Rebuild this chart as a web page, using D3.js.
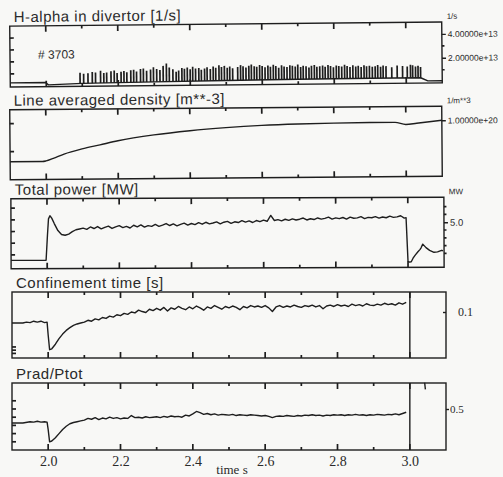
<!DOCTYPE html>
<html><head><meta charset="utf-8">
<script src="https://cdn.jsdelivr.net/npm/d3@7"></script>
<style>
html,body{margin:0;padding:0;background:#f8f8f6;}
svg{display:block;}
</style></head>
<body>
<svg id="c" width="503" height="477"></svg>
<script>
// ---------------- DATA ----------------
const shotLabel = "# 3703";
const timeMajor = [2.0, 2.2, 2.4, 2.6, 2.8, 3.0];
const timeMinor = [2.1, 2.3, 2.5, 2.7, 2.9];
const titles = ["H-alpha in divertor [1/s]", "Line averaged density [m**-3]", "Total power [MW]", "Confinement time [s]", "Prad/Ptot"];
const unitLabels = ["1/s", "1/m**3", "MW", "", ""];

// H-alpha baseline (units 1e13 /s)
const haBaseT = [1.9, 1.998, 2.006, 2.1, 2.3, 2.5, 2.7, 2.9, 3.04, 3.06, 3.1];
const haBaseV = [0.25, 0.25, 0.05, 0.15, 0.22, 0.28, 0.32, 0.35, 0.35, 0.08, 0.08];
// ELM spikes: time (s) and peak (1e13 /s)
const elmT = [2.094,2.104,2.116,2.128,2.137,2.151,2.160,2.168,2.180,2.189,2.197,2.208,2.216,2.224,2.235,2.243,2.251,2.262,2.270,2.279,2.290,2.298,2.307,2.316,2.325,2.334,2.342,2.352,2.361,2.368,2.377,2.384,2.392,2.400,2.407,2.415,2.424,2.431,2.440,2.447,2.456,2.464,2.471,2.480,2.487,2.495,2.503,2.510,2.518,2.532,2.540,2.547,2.555,2.563,2.570,2.578,2.585,2.593,2.600,2.608,2.616,2.623,2.631,2.638,2.646,2.654,2.661,2.669,2.677,2.684,2.692,2.699,2.707,2.714,2.722,2.730,2.737,2.745,2.752,2.760,2.768,2.775,2.783,2.790,2.798,2.806,2.813,2.821,2.829,2.836,2.844,2.852,2.860,2.867,2.875,2.883,2.890,2.898,2.906,2.914,2.921,2.929,2.936,2.944,2.960,2.975,2.990,3.003,3.012,3.018,3.026,3.033,3.040];
const elmV = [1.05,0.95,1.00,1.10,1.05,1.20,1.00,1.05,1.15,1.20,1.00,1.10,1.15,1.05,1.20,1.25,1.10,1.30,1.35,1.15,1.25,1.45,1.30,1.20,1.55,1.75,1.40,1.25,1.05,1.15,1.35,1.30,1.40,1.25,1.45,1.30,1.35,1.20,1.30,1.40,1.25,1.45,1.35,1.55,1.40,1.50,1.35,1.45,1.30,1.40,1.55,1.45,1.35,1.50,1.60,1.45,1.40,1.55,1.45,1.35,1.50,1.40,1.55,1.45,1.30,1.50,1.40,1.35,1.50,1.45,1.40,1.55,1.35,1.45,1.40,1.30,1.45,1.50,1.35,1.40,1.45,1.35,1.50,1.40,1.30,1.45,1.40,1.35,1.50,1.40,1.30,1.45,1.35,1.40,1.30,1.45,1.35,1.40,1.30,1.35,1.45,1.30,1.40,1.35,1.25,1.40,1.35,1.30,1.45,1.40,1.30,1.35,1.25];

// Line averaged density (1e20 m^-3)
const densT = [1.9, 1.99, 2.0, 2.02, 2.05, 2.1, 2.15, 2.2, 2.3, 2.4, 2.5, 2.6, 2.7, 2.8, 2.9, 2.97, 3.0, 3.03, 3.1];
const densV = [0.32, 0.32, 0.33, 0.375, 0.45, 0.54, 0.61, 0.68, 0.78, 0.85, 0.90, 0.935, 0.955, 0.965, 0.97, 0.97, 0.93, 0.95, 1.0];

// Flat-top sample times (s)
const ftT = [2.10,2.11,2.12,2.13,2.14,2.15,2.16,2.17,2.18,2.19,2.20,2.21,2.22,2.23,2.24,2.25,2.26,2.27,2.28,2.29,2.30,2.31,2.32,2.33,2.34,2.35,2.36,2.37,2.38,2.39,2.40,2.41,2.42,2.43,2.44,2.45,2.46,2.47,2.48,2.49,2.50,2.51,2.52,2.53,2.54,2.55,2.56,2.57,2.58,2.59,2.60,2.61,2.62,2.63,2.64,2.65,2.66,2.67,2.68,2.69,2.70,2.71,2.72,2.73,2.74,2.75,2.76,2.77,2.78,2.79,2.80,2.81,2.82,2.83,2.84,2.85,2.86,2.87,2.88,2.89,2.90,2.91,2.92,2.93,2.94,2.95,2.96,2.97,2.98,2.99];

// Total power (MW)
const pwrStartT = [1.9, 1.997, 2.001, 2.004, 2.008, 2.013, 2.02, 2.03, 2.04, 2.05, 2.06, 2.07, 2.08, 2.09];
const pwrStartV = [0.3, 0.3, 3.5, 5.6, 6.0, 5.7, 5.0, 4.1, 3.6, 3.5, 3.65, 3.95, 4.2, 4.3];
const pwrFtV = [4.40,4.25,4.55,4.35,4.60,4.30,4.50,4.65,4.35,4.55,
4.70,4.45,4.60,4.40,4.75,4.55,4.80,4.50,4.70,4.60,
4.85,4.60,4.75,4.95,4.70,4.90,4.65,4.85,5.00,4.75,
4.95,4.80,5.05,4.85,5.10,4.90,5.00,5.15,4.90,5.10,
5.20,4.95,5.15,5.05,5.30,5.10,5.25,5.05,5.30,5.15,
5.35,5.20,5.95,5.30,5.40,5.25,5.45,5.30,5.50,5.35,
5.45,5.60,5.35,5.50,5.40,5.60,5.45,5.55,5.70,5.45,
5.60,5.50,5.65,5.45,5.70,5.55,5.60,5.75,5.50,5.65,
5.60,5.75,5.55,5.70,5.60,5.80,5.65,5.70,5.85,5.55];
const pwrEndT = [2.995, 3.0, 3.004, 3.009, 3.014, 3.02, 3.027, 3.033, 3.036, 3.041, 3.05, 3.06, 3.072, 3.082, 3.093, 3.097];
const pwrEndV = [5.6, 0.0, -0.1, -0.05, 0.4, 0.8, 1.2, 1.5, 1.7, 2.2, 1.75, 1.4, 1.15, 1.2, 1.4, 1.35];

// Confinement time (s)
const tauStartT = [1.9, 1.93, 1.94, 1.95, 1.96, 1.97, 1.98, 1.99, 1.997, 2.0, 2.004, 2.01, 2.02, 2.03, 2.04, 2.05, 2.06, 2.07, 2.08, 2.09];
const tauStartV = [0.076, 0.076, 0.078, 0.077, 0.080, 0.078, 0.080, 0.077, 0.078, 0.050, 0.018, 0.020, 0.030, 0.042, 0.052, 0.060, 0.066, 0.071, 0.074, 0.076];
const tauFtV = [0.078,0.082,0.080,0.085,0.083,0.088,0.086,0.091,0.089,0.094,
0.092,0.097,0.095,0.100,0.098,0.104,0.101,0.099,0.106,0.103,
0.108,0.104,0.110,0.102,0.109,0.106,0.112,0.108,0.105,0.111,
0.107,0.113,0.109,0.104,0.111,0.108,0.114,0.110,0.106,0.112,
0.109,0.113,0.110,0.105,0.112,0.109,0.114,0.111,0.113,0.110,
0.114,0.109,0.101,0.111,0.114,0.110,0.113,0.111,0.115,0.112,
0.110,0.114,0.112,0.115,0.111,0.114,0.107,0.113,0.115,0.112,
0.116,0.113,0.115,0.112,0.117,0.114,0.116,0.113,0.118,0.115,
0.114,0.117,0.115,0.119,0.116,0.118,0.115,0.120,0.117,0.121];

// Prad / Ptot
const pradStartT = [1.9, 1.93, 1.95, 1.96, 1.97, 1.98, 1.99, 1.997, 2.0, 2.004, 2.01, 2.02, 2.03, 2.04, 2.05, 2.06, 2.07, 2.08, 2.09];
const pradStartV = [0.33, 0.33, 0.345, 0.34, 0.35, 0.34, 0.345, 0.34, 0.25, 0.10, 0.11, 0.15, 0.20, 0.25, 0.29, 0.32, 0.335, 0.345, 0.355];
const pradFtV = [0.365,0.385,0.375,0.395,0.370,0.390,0.380,0.400,0.385,0.395,
0.380,0.390,0.385,0.420,0.395,0.400,0.390,0.405,0.395,0.400,
0.405,0.395,0.410,0.400,0.415,0.405,0.410,0.400,0.425,0.415,
0.440,0.470,0.455,0.435,0.445,0.430,0.440,0.425,0.435,0.430,
0.425,0.435,0.420,0.430,0.425,0.420,0.430,0.425,0.420,0.415,
0.420,0.410,0.395,0.410,0.415,0.410,0.420,0.415,0.410,0.420,
0.415,0.425,0.420,0.430,0.420,0.425,0.415,0.425,0.420,0.430,
0.425,0.430,0.420,0.430,0.425,0.435,0.425,0.430,0.420,0.430,
0.425,0.435,0.430,0.425,0.435,0.430,0.440,0.430,0.445,0.460];
const pradTailT = [3.041, 3.043];
const pradTailV = [0.82, 0.74];

// Axis tick values
const haLeftTicks = [1, 2, 3, 4];
const haRightTicks = [2, 4];
const haRightMinor = [1, 3];
const densLeftTicks = [0.5, 1.0];
const densRightTicks = [1.0];
const pwrLeftTicks = [1, 2.5, 4, 5.5, 7];
const pwrRightMinor = [1, 2, 3, 4, 6, 7];
const pwrRightTicks = [5.0];
const tauLeftTicks = [0.01, 0.017, 0.024];
const tauRightTicks = [0.1];
const pradLeftTicks = [0.1, 0.2, 0.3, 0.4, 0.5, 0.6];
const pradRightTicks = [0.5];
const endTime = 3.0;

// ---------------- DRAWING ----------------
const svg = d3.select("#c");
const ink = "#1e1e1e";
const txt = "#2a2a2a";
const sans = "Liberation Sans, Arial, sans-serif";
const serif = "Liberation Serif, Times New Roman, serif";

// panel geometry (scan is slightly tilted/shifted at the top)
const layout = [
  {top: 24, bottom: 85, left: 10, right: 442, rot: -0.55, dom: [-0.1, 5.0]},
  {top: 108, bottom: 178, left: 10, right: 442, rot: -0.45, dom: [0, 1.25]},
  {top: 198, bottom: 268, left: 11, right: 444, rot: -0.2, dom: [-0.77, 8.2]},
  {top: 292, bottom: 358, left: 12, right: 446, rot: 0, dom: [0, 0.1435]},
  {top: 383, bottom: 450, left: 12, right: 446, rot: 0, dom: [0, 0.817]}
];
const xs = layout.map(l => d3.scaleLinear().domain([1.9, 3.1]).range([l.left, l.right]));
const ys = layout.map(l => d3.scaleLinear().domain(l.dom).range([l.bottom, l.top]));

function frame(i, opts) {
  const l = layout[i], y = ys[i], x = xs[i];
  const cx = (l.left + l.right) / 2, cy = (l.top + l.bottom) / 2;
  const g = svg.append("g").attr("transform", `rotate(${l.rot},${cx},${cy})`);
  g.append("rect").attr("x", l.left).attr("y", l.top)
    .attr("width", l.right - l.left).attr("height", l.bottom - l.top)
    .attr("fill", "none").attr("stroke", ink).attr("stroke-width", 1.4);
  g.append("text").attr("x", l.left + 4).attr("y", l.top - 4)
    .attr("font-family", sans).attr("font-size", 15)
    .attr("letter-spacing", 0.5).attr("fill", txt).text(titles[i]);
  // inner time ticks on top and bottom borders
  const tk = g.append("g");
  const tickSets = [{vals: timeMajor, len: 6}, {vals: timeMinor, len: 3}];
  tickSets.forEach(s => {
    s.vals.forEach(v => {
      tk.append("line").attr("x1", x(v)).attr("x2", x(v))
        .attr("y1", l.top).attr("y2", l.top + s.len);
      tk.append("line").attr("x1", x(v)).attr("x2", x(v))
        .attr("y1", l.bottom).attr("y2", l.bottom - s.len);
    });
  });
  // left inner ticks
  opts.left.forEach(v => {
    tk.append("line").attr("x1", l.left).attr("x2", l.left + 4)
      .attr("y1", y(v)).attr("y2", y(v));
  });
  // right minor ticks (outside)
  (opts.rightMinor || []).forEach(v => {
    tk.append("line").attr("x1", l.right).attr("x2", l.right + 2.5)
      .attr("y1", y(v)).attr("y2", y(v));
  });
  tk.selectAll("line").attr("stroke", ink).attr("stroke-width", 1.7);
  // right labelled ticks
  g.append("g").attr("transform", `translate(${l.right + opts.rOff},0)`)
    .call(d3.axisRight(y).tickValues(opts.right).tickSize(opts.rLen)
      .tickPadding(opts.pad).tickFormat(opts.fmt))
    .call(s => s.select(".domain").remove())
    .call(s => s.selectAll("line").attr("stroke", ink).attr("stroke-width", 1.4))
    .call(s => s.selectAll("text").attr("font-family", opts.font)
      .attr("font-size", opts.fs).attr("fill", txt));
  if (unitLabels[i]) {
    g.append("text").attr("x", l.right + 5).attr("y", l.top - 3)
      .attr("font-family", sans).attr("font-size", 8)
      .attr("fill", txt).text(unitLabels[i]);
  }
  return g;
}
const lineGen = (i) => d3.line().x(d => xs[i](d[0])).y(d => ys[i](d[1]));
const trace = (g, data, i, curve) => g.append("path").datum(data)
  .attr("d", curve ? lineGen(i).curve(curve) : lineGen(i))
  .attr("fill", "none").attr("stroke", ink).attr("stroke-width", 1.4)
  .attr("stroke-linejoin", "round");
const sci = d => d3.format(".5e")(d);

// Panel 1: H-alpha
const g1 = frame(0, {left: haLeftTicks, rightMinor: haRightMinor, right: haRightTicks, rOff: 0, rLen: 4, pad: 2,
  fmt: d => sci(d * 1e13), font: sans, fs: 8.5});
const baseAt = d3.scaleLinear().domain(haBaseT).range(haBaseV);
trace(g1, d3.zip(haBaseT, haBaseV), 0);
g1.append("g").selectAll("line").data(d3.zip(elmT, elmV)).join("line")
  .attr("x1", d => xs[0](d[0])).attr("x2", d => xs[0](d[0]))
  .attr("y1", d => ys[0](baseAt(d[0]))).attr("y2", d => ys[0](d[1]))
  .attr("stroke", ink).attr("stroke-width", 1.7);
g1.append("text").attr("x", 38).attr("y", 57)
  .attr("font-family", sans).attr("font-size", 12)
  .attr("fill", txt).text(shotLabel);

// Panel 2: density
const g2 = frame(1, {left: densLeftTicks, right: densRightTicks, rOff: 0, rLen: 4, pad: 2,
  fmt: d => sci(d * 1e20), font: sans, fs: 8.5});
trace(g2, d3.zip(densT, densV), 1, d3.curveMonotoneX);

// Panel 3: power
const g3 = frame(2, {left: pwrLeftTicks, rightMinor: pwrRightMinor, right: pwrRightTicks, rOff: 0, rLen: 4, pad: 2,
  fmt: d3.format(".1f"), font: sans, fs: 9.5});
trace(g3, d3.zip(pwrStartT.concat(ftT, pwrEndT), pwrStartV.concat(pwrFtV, pwrEndV)), 2);

// Panel 4: confinement time
const g4 = frame(3, {left: tauLeftTicks, right: tauRightTicks, rOff: -3, rLen: 3, pad: 12,
  fmt: d3.format(".1f"), font: serif, fs: 12});
trace(g4, d3.zip(tauStartT.concat(ftT), tauStartV.concat(tauFtV)), 3);
g4.append("line").attr("x1", xs[3](endTime)).attr("x2", xs[3](endTime))
  .attr("y1", layout[3].top).attr("y2", layout[3].bottom).attr("stroke", ink).attr("stroke-width", 1.4);

// Panel 5: Prad/Ptot
const g5 = frame(4, {left: pradLeftTicks, right: pradRightTicks, rOff: 0, rLen: 3, pad: 1,
  fmt: d3.format(".1f"), font: serif, fs: 11});
trace(g5, d3.zip(pradStartT.concat(ftT), pradStartV.concat(pradFtV)), 4);
trace(g5, d3.zip(pradTailT, pradTailV), 4);
g5.append("line").attr("x1", xs[4](endTime)).attr("x2", xs[4](endTime))
  .attr("y1", layout[4].top).attr("y2", layout[4].bottom).attr("stroke", ink).attr("stroke-width", 1.4);

// time axis labels
g5.append("g").attr("transform", `translate(0,${layout[4].bottom})`)
  .call(d3.axisBottom(xs[4]).tickValues(timeMajor).tickSize(0).tickPadding(6).tickFormat(d3.format(".1f")))
  .call(s => s.select(".domain").remove())
  .call(s => s.selectAll("text").attr("font-family", serif)
    .attr("font-size", 14).attr("fill", txt));
g5.append("text").attr("x", 232).attr("y", 474).attr("text-anchor", "middle")
  .attr("font-family", serif).attr("font-size", 13)
  .attr("fill", txt).text("time  s");
</script>
</body></html>
